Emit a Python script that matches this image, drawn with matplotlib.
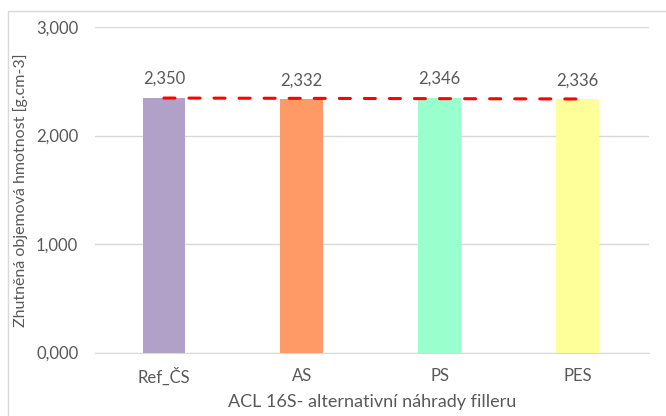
import numpy as np
import matplotlib
matplotlib.use("Agg")
import matplotlib.pyplot as plt
from matplotlib.patches import Rectangle
from matplotlib.ticker import FuncFormatter

categories = ["Ref_ČS", "AS", "PS", "PES"]
values = [2.350, 2.332, 2.346, 2.336]
colors = ["#B1A0C7", "#FF9966", "#99FFCC", "#FFFF99"]
yticks = [0, 1, 2, 3]
xlabel = "ACL 16S- alternativní náhrady filleru"
ylabel = "Zhutněná objemová hmotnost [g.cm-3]"

plt.rcParams['font.family'] = ['Lato', 'DejaVu Sans']
txt = "#595959"

fig = plt.figure(figsize=(6.66, 4.16), dpi=100)
fig.patches.append(Rectangle((8/666, -0.1), 1.2, 1 - 11/416 + 0.1, transform=fig.transFigure,
                             fill=False, edgecolor="#D9D9D9", linewidth=1))
ax = fig.add_axes([95/666, 1 - 352.5/416, 554/666, 325.5/416])

x = np.arange(len(categories))
ax.bar(x, values, width=0.31, color=colors, zorder=2)
for xi, v in zip(x, values):
    ax.text(xi, v + 0.1, f"{v:.3f}".replace(".", ","), ha="center", va="bottom",
            fontsize=12, color=txt)

coef = np.polyfit(x, values, 1)
xt = np.array([x[0], x[-1]])
ax.plot(xt, np.polyval(coef, xt), color="#FF0000", lw=2.2, dashes=[3.6, 4.6],
        dash_capstyle="round", zorder=3)

ax.set_xlim(-0.5, 3.52)
ax.set_ylim(0, 3)
ax.set_yticks(yticks)
ax.yaxis.set_major_formatter(FuncFormatter(lambda v, p: f"{v:.3f}".replace(".", ",")))
ax.set_xticks(x)
ax.set_xticklabels(categories)
ax.grid(axis="y", color="#D9D9D9", linewidth=1, zorder=0)
for s in ["top", "right", "left"]:
    ax.spines[s].set_visible(False)
ax.spines["bottom"].set_color("#D9D9D9")
ax.tick_params(axis="both", length=0, labelsize=12, labelcolor=txt, pad=12)
ax.tick_params(axis="x", pad=11)
ax.set_xlabel(xlabel, fontsize=13, color=txt, labelpad=6)
ax.set_ylabel(ylabel, fontsize=11.5, color=txt, labelpad=6)

fig.savefig("out.png", dpi=100)
